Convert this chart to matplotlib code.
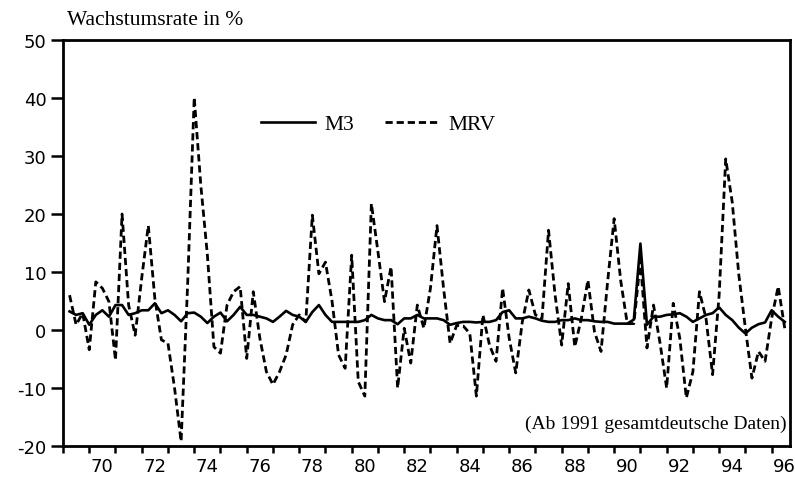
import numpy as np
import matplotlib
matplotlib.use("Agg")
import matplotlib.pyplot as plt

# Quarterly growth rates, 1969 Q2 .. 1996 Q3 (plotted at quarter boundaries)
start_year = 1969.25
mrv = [6.0, 0.9, 2.9, -3.4, 8.3, 7.2, 4.9, -5.2, 20.0, 4.3, -0.9, 9.0,
       18.0, 5.4, -1.7, -2.3, -10.0, -19.2, 8.0, 40.1, 25.0, 13.0, -2.9, -4.0,
       4.3, 6.6, 7.5, -4.9, 6.6, -1.4, -7.2, -9.4, -7.2, -4.3, 0.9, 2.6,
       1.4, 19.8, 9.7, 11.7, 5.0, -4.3, -6.6, 12.9, -8.9, -11.4, 21.8, 13.5,
       4.9, 10.9, -10.0, 0.3, -5.7, 4.3, 0.3, 7.2, 18.0, 7.2, -2.3, 0.8,
       0.7, -0.6, -11.4, 2.6, -2.6, -5.4, 7.2, -1.4, -7.4, 1.4, 6.9, 2.6,
       2.0, 17.2, 6.0, -2.6, 8.0, -2.9, 2.0, 8.6, -0.3, -3.7, 8.3, 19.2,
       8.5, 1.1, 1.1, 12.0, -3.1, 4.3, -2.3, -10.0, 4.6, -1.4, -11.7, -7.2,
       6.6, 2.0, -7.7, 6.0, 29.5, 22.0, 9.5, 0.3, -8.3, -3.7, -5.4, 2.0,
       7.5, 0.3]
m3 = [3.2, 2.6, 2.9, 0.9, 2.6, 3.4, 2.3, 4.3, 4.3, 2.6, 2.9, 3.4,
      3.4, 4.6, 2.9, 3.4, 2.6, 1.5, 2.9, 3.0, 2.3, 1.2, 2.3, 3.0,
      1.5, 2.6, 4.0, 2.6, 2.6, 2.3, 2.0, 1.4, 2.3, 3.3, 2.6, 2.3,
      1.4, 3.1, 4.3, 2.6, 1.4, 1.4, 1.4, 1.4, 1.4, 1.7, 2.6, 2.0,
      1.7, 1.7, 1.0, 2.0, 2.0, 2.6, 2.0, 2.0, 2.0, 1.7, 0.9, 1.2,
      1.4, 1.4, 1.3, 1.4, 1.4, 1.7, 3.1, 3.4, 2.0, 2.0, 2.3, 2.0,
      1.6, 1.4, 1.4, 1.7, 1.7, 2.0, 1.7, 1.7, 1.5, 1.4, 1.4, 1.1,
      1.1, 1.1, 1.8, 14.9, 0.9, 2.3, 2.3, 2.6, 2.7, 2.9, 2.3, 1.4,
      2.0, 2.6, 2.9, 3.9, 2.6, 1.7, 0.4, -0.6, 0.4, 1.0, 1.3, 3.4,
      2.3, 1.4]
assert len(mrv) == len(m3)
t = start_year + 0.25 * np.arange(len(mrv))

year_ticks = list(range(1969, 1997))
label_years = [1970, 1972, 1974, 1976, 1978, 1980, 1982, 1984, 1986, 1988,
               1990, 1992, 1994, 1996]
label_texts = ["70", "72", "74", "76", "78", "80", "82", "84", "86", "88",
               "90", "92", "94", "96"]
y_ticks = [-20, -10, 0, 10, 20, 30, 40, 50]

serif = ["Liberation Serif", "DejaVu Serif"]
sans = ["DejaVu Sans"]

fig = plt.figure(figsize=(7.95, 4.81), dpi=100)
ax = fig.add_axes([63/795, 1-447/481, (790-63)/795, (447-41)/481])

ax.plot(t, mrv, color="black", lw=2.0, dashes=(2.6, 1.4), label="MRV")
ax.plot(t, m3, color="black", lw=1.9, label="M3")

ax.set_xlim(1969, 1996.7)
ax.set_ylim(-20, 50)

ax.set_xticks(year_ticks)
ax.set_xticklabels([])
ax.set_xticks([y + 0.5 for y in label_years], minor=True)
ax.set_xticklabels(label_texts, minor=True, fontfamily=sans, fontsize=13)
ax.tick_params(axis="x", which="major", direction="out", length=5, width=1.8)
ax.tick_params(axis="x", which="minor", length=0, pad=8)

ax.set_yticks(y_ticks)
ax.set_yticklabels([str(v) for v in y_ticks], fontfamily=sans, fontsize=13)
ax.tick_params(axis="y", direction="out", length=9, width=1.8, pad=3)

for s in ax.spines.values():
    s.set_linewidth(2.0)

handles, labels = ax.get_legend_handles_labels()
leg = ax.legend(handles[::-1], labels[::-1], ncol=2, frameon=False,
                loc="center left", bbox_to_anchor=(0.246, 0.793),
                prop={"family": serif, "size": 15.5},
                handlelength=2.5, handletextpad=0.45, columnspacing=1.4)

ax.text(0.996, 0.045, "(Ab 1991 gesamtdeutsche Daten)", transform=ax.transAxes,
        ha="right", va="baseline", fontfamily=serif, fontsize=14)

fig.text(67/795, 1-25/481, "Wachstumsrate in %", ha="left", va="baseline",
         fontfamily=serif, fontsize=15.5)

fig.savefig("out.png", dpi=100)
